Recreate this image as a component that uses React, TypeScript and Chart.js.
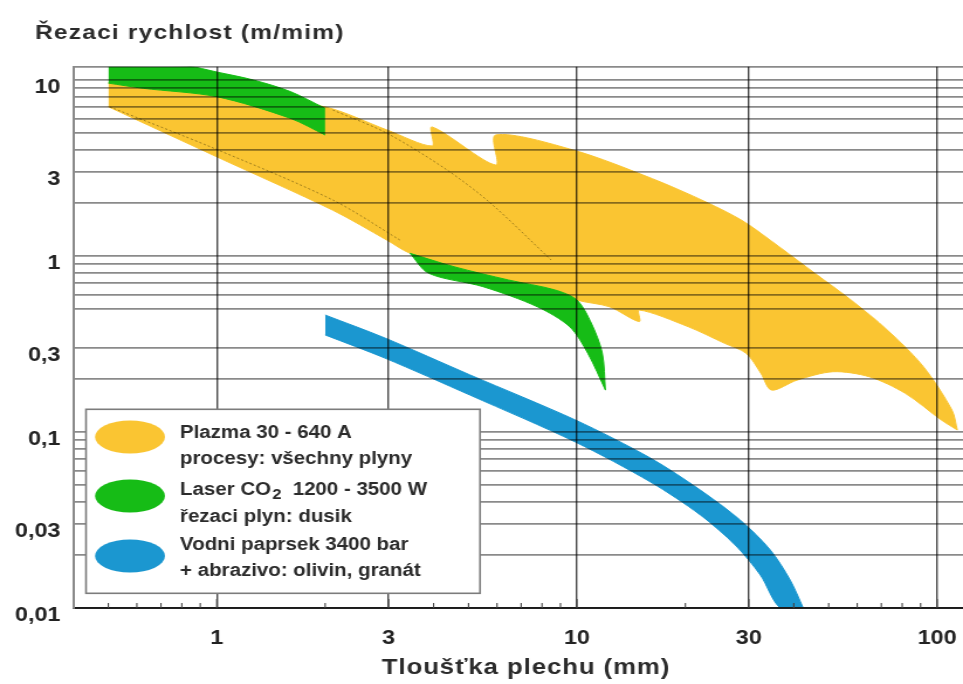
import React, { useEffect, useRef } from 'react';
import { Chart, registerables } from 'chart.js';

Chart.register(...registerables);

// ---------------- axis data ----------------
const X_MIN = 0.4;
const X_MAX = 118;
const Y_MIN = 0.01;
const Y_MAX = 11.9;

const xTickValues = [1, 3, 10, 30, 100];
const xTickLabels = ['1', '3', '10', '30', '100'];
const xMinorTicks = [0.5, 0.6, 0.7, 0.8, 0.9, 2, 4, 5, 6, 7, 8, 9, 20, 40, 50, 60, 70, 80, 90];

const yGridValues = [11.9, 10, 9, 8, 7, 6, 5, 4, 3, 2, 1, 0.9, 0.8, 0.7, 0.6, 0.5, 0.3, 0.2,
  0.1, 0.09, 0.08, 0.07, 0.06, 0.05, 0.04, 0.03, 0.02, 0.01];
const yTickValues = [10, 3, 1, 0.3, 0.1, 0.03, 0.01];
const yTickLabels = ['10', '3', '1', '0,3', '0,1', '0,03', '0,01'];

const xTitle = 'Tloušťka plechu (mm)';
const yTitle = 'Řezaci rychlost (m/mim)';

// ---------------- series data ----------------
// Plazma (yellow band): upper and lower boundary
const plasmaUpperX = [0.5, 1.0, 2.0, 2.97, 3.96, 3.96, 5.95, 5.95, 9.77, 16.2, 22.9, 28.9, 36.4, 45.8, 57.7, 72.7, 91.6, 110, 113.8];
const plasmaUpperY = [9.6, 8.55, 7.03, 5.2, 4.22, 5.41, 3.29, 4.87, 4.0, 2.75, 2.02, 1.58, 1.13, 0.797, 0.562, 0.38, 0.235, 0.133, 0.1026];
const plasmaLowerX = [0.5, 1.0, 2.1, 2.97, 3.44, 4.56, 6.45, 8.7, 10, 12.3, 14.9, 14.9, 20.4, 25.7, 29.5, 32.4, 34.7, 40.8, 51.4, 64.8, 81.5, 102.7, 113.8];
const plasmaLowerY = [7.05, 3.66, 1.82, 1.23, 1.036, 0.869, 0.731, 0.641, 0.562, 0.515, 0.424, 0.493, 0.396, 0.319, 0.28, 0.216, 0.173, 0.197, 0.22, 0.206, 0.166, 0.117, 0.1026];

// thin dotted lines inside the plasma band
const plasmaDash1X = [0.505, 0.977, 2.1, 3.23];
const plasmaDash1Y = [7.03, 4.11, 2.08, 1.23];
const plasmaDash2X = [2.1, 2.97, 4.36, 5.75, 8.48];
const plasmaDash2Y = [6.75, 4.98, 3.08, 2.0, 0.949];

// Laser CO2 (green): thin sheets band
const laserThinUpperX = [0.5, 0.825, 1.0, 1.264, 1.6, 2.0];
const laserThinUpperY = [12, 12, 11.1, 10, 8.6, 6.9];
const laserThinLowerX = [0.5, 0.625, 1.0, 1.6, 2.0];
const laserThinLowerY = [9.6, 8.97, 8.04, 6.06, 4.87];

// Laser CO2 (green): thick sheets band
const laserThickUpperX = [3.44, 4.56, 6.45, 8.7, 10, 10.96, 11.76, 12.0];
const laserThickUpperY = [1.036, 0.869, 0.731, 0.641, 0.562, 0.416, 0.281, 0.173];
const laserThickLowerX = [3.44, 3.88, 5.49, 7.76, 9.55, 10.72, 12.0];
const laserThickLowerY = [1.036, 0.797, 0.669, 0.515, 0.396, 0.28, 0.173];

// Vodni paprsek (blue band)
const waterUpperX = [2.0, 2.93, 5.05, 9.9, 16.0, 22.0, 28.4, 34.4, 39.1, 42.5];
const waterUpperY = [0.462, 0.342, 0.211, 0.117, 0.0711, 0.0468, 0.0316, 0.0214, 0.0144, 0.01];
const waterLowerX = [2.0, 2.93, 5.05, 9.9, 16.0, 22.0, 27.5, 32.3, 36.7, 42.5];
const waterLowerY = [0.356, 0.263, 0.162, 0.0877, 0.052, 0.0338, 0.0228, 0.0154, 0.01, 0.01];

// legend
const YELLOW = '#FAC532';
const GREEN = '#16BC16';
const BLUE = '#1B97D0';
const legendLine1 = ['Plazma 30 - 640 A', 'Laser CO₂  1200 - 3500 W', 'Vodni paprsek 3400 bar'];
const legendLine2 = ['procesy: všechny plyny', 'řezaci plyn: dusik', '+ abrazivo: olivin, granát'];
const legendColors = [YELLOW, GREEN, BLUE];

// ---------------- layout ----------------
const CW = 823; // internal canvas width (displayed stretched to 963)
const CH = 684;
const S = 963 / CW;
const dx = (d: number) => d / S;
const PLOT_TOP = 66.7;
const PLOT_BOTTOM = 608;
const PLOT_LEFT = dx(73.4);
const FONT = '"Liberation Sans", Arial, Helvetica, sans-serif';

const pts = (xs: number[], ys: number[]) => xs.map((x, i) => ({ x, y: ys[i] }));

function band(label: string, xs: number[], ys: number[], color: string, fill: any) {
  return {
    label,
    data: pts(xs, ys),
    borderColor: color,
    backgroundColor: color,
    borderWidth: 1,
    pointRadius: 0,
    tension: 0.3,
    fill,
  };
}

const decorPlugin = {
  id: 'decor',
  afterDraw(chart: any) {
    const ctx = chart.ctx as CanvasRenderingContext2D;
    const xs = chart.scales.x;
    const bottom = chart.chartArea.bottom;
    ctx.save();
    // minor ticks along the bottom axis
    ctx.strokeStyle = '#444';
    ctx.lineWidth = 1.1;
    for (const v of xMinorTicks) {
      const p = xs.getPixelForValue(v);
      ctx.beginPath();
      ctx.moveTo(p, bottom);
      ctx.lineTo(p, bottom - 5);
      ctx.stroke();
    }
    for (const v of xTickValues) {
      const p = xs.getPixelForValue(v);
      ctx.beginPath();
      ctx.moveTo(p, bottom);
      ctx.lineTo(p, bottom - 9);
      ctx.stroke();
    }

    // titles
    ctx.fillStyle = '#2b2b2b';
    ctx.textBaseline = 'alphabetic';
    ctx.textAlign = 'left';
    ctx.font = `bold 21px ${FONT}`;
    (ctx as any).letterSpacing = '1px';
    ctx.fillText(yTitle, dx(35), 38.5);
    ctx.font = `bold 22px ${FONT}`;
    (ctx as any).letterSpacing = '0.8px';
    ctx.textAlign = 'center';
    ctx.fillText(xTitle, dx(526), 674);
    (ctx as any).letterSpacing = '0px';

    // legend box
    const bx = dx(86), by = 409.3, bw = dx(480) - dx(86), bh = 184;
    ctx.fillStyle = '#ffffff';
    ctx.fillRect(bx, by, bw, bh);
    ctx.strokeStyle = '#7c7c7c';
    ctx.lineWidth = 1.6;
    ctx.strokeRect(bx, by, bw, bh);

    const ellY = [437, 496, 556];
    const rowY = [[433.5, 459.5], [490.5, 517], [545, 571.5]];
    for (let i = 0; i < legendColors.length; i++) {
      ctx.fillStyle = legendColors[i];
      ctx.beginPath();
      ctx.ellipse(dx(130), ellY[i], dx(35), 16.5, 0, 0, Math.PI * 2);
      ctx.fill();

      ctx.fillStyle = '#2b2b2b';
      ctx.textAlign = 'left';
      ctx.textBaseline = 'middle';
      ctx.font = `bold 17.5px ${FONT}`;
      const tx = dx(180);
      const parts = legendLine1[i].split('₂');
      if (parts.length === 2) {
        ctx.fillText(parts[0], tx, rowY[i][0]);
        const w0 = ctx.measureText(parts[0]).width;
        ctx.font = `bold 14px ${FONT}`;
        ctx.fillText('2', tx + w0 + 1, rowY[i][0] + 5);
        const w1 = ctx.measureText('2').width;
        ctx.font = `bold 17.5px ${FONT}`;
        ctx.fillText(parts[1], tx + w0 + 1 + w1, rowY[i][0]);
      } else {
        ctx.fillText(legendLine1[i], tx, rowY[i][0]);
      }
      ctx.fillText(legendLine2[i], tx, rowY[i][1]);
    }
    ctx.restore();
  },
};

export default function App() {
  const ref = useRef<HTMLCanvasElement>(null);

  useEffect(() => {
    const canvas = ref.current as HTMLCanvasElement;
    const datasets: any[] = [
      band('laserThickUpper', laserThickUpperX, laserThickUpperY, GREEN, false),
      band('laserThickLower', laserThickLowerX, laserThickLowerY, GREEN, '-1'),
      band('laserThinUpper', laserThinUpperX, laserThinUpperY, GREEN, false),
      band('laserThinLower', laserThinLowerX, laserThinLowerY, GREEN, '-1'),
      band('waterUpper', waterUpperX, waterUpperY, BLUE, false),
      band('waterLower', waterLowerX, waterLowerY, BLUE, '-1'),
      {
        label: 'plasmaDash1', data: pts(plasmaDash1X, plasmaDash1Y), borderColor: 'rgba(120,95,20,0.7)',
        borderWidth: 1, borderDash: [2, 2], pointRadius: 0, tension: 0.3, fill: false,
      },
      {
        label: 'plasmaDash2', data: pts(plasmaDash2X, plasmaDash2Y), borderColor: 'rgba(120,95,20,0.7)',
        borderWidth: 1, borderDash: [2, 2], pointRadius: 0, tension: 0.3, fill: false,
      },
      band('plasmaUpper', plasmaUpperX, plasmaUpperY, YELLOW, false),
      band('plasmaLower', plasmaLowerX, plasmaLowerY, YELLOW, '-1'),
    ];

    const tickFont = { family: FONT, size: 20, weight: 'bold' as const };

    const chart = new Chart(canvas, {
      type: 'line',
      data: { datasets },
      options: {
        responsive: false,
        animation: false,
        devicePixelRatio: 1,
        events: [],
        layout: { padding: { top: PLOT_TOP, right: 0, bottom: 0, left: 0 } },
        plugins: {
          legend: { display: false },
          tooltip: { enabled: false },
        },
        scales: {
          x: {
            type: 'logarithmic',
            position: 'bottom',
            min: X_MIN,
            max: X_MAX,
            afterBuildTicks: (s: any) => { s.ticks = xTickValues.map((v) => ({ value: v })); },
            afterFit: (s: any) => { s.height = CH - PLOT_BOTTOM; },
            ticks: {
              autoSkip: false,
              maxRotation: 0,
              minRotation: 0,
              padding: 0,
              color: '#222',
              font: tickFont,
              callback: (v: any) => {
                const i = xTickValues.indexOf(Number(v));
                return i >= 0 ? xTickLabels[i] : '';
              },
            },
            grid: {
              z: 1,
              color: 'rgba(0,0,0,0.72)',
              lineWidth: 1.4,
              drawTicks: true,
              tickLength: 18,
              tickColor: 'rgba(0,0,0,0)',
            },
            border: { display: true, color: '#333', width: 2, z: 1 },
          },
          y: {
            type: 'logarithmic',
            min: Y_MIN,
            max: Y_MAX,
            afterBuildTicks: (s: any) => {
              s.ticks = [...yGridValues].sort((a, b) => a - b).map((v) => ({ value: v }));
            },
            afterFit: (s: any) => { s.width = PLOT_LEFT; },
            ticks: {
              autoSkip: false,
              padding: 11,
              labelOffset: 7,
              color: '#222',
              font: tickFont,
              callback: (v: any) => {
                const i = yTickValues.indexOf(Number(v));
                return i >= 0 ? yTickLabels[i] : '';
              },
            },
            grid: { z: 1, color: 'rgba(0,0,0,0.46)', lineWidth: 1.8, drawTicks: false },
            border: { display: true, color: '#8a8a8a', width: 2, z: 1 },
          },
        },
      } as any,
      plugins: [decorPlugin],
    });
    return () => chart.destroy();
  }, []);

  return (
    <div style={{ position: 'fixed', left: 0, top: 0, width: 963, height: 684, background: '#fff', overflow: 'hidden' }}>
      <canvas ref={ref} width={CW} height={CH} style={{ width: '963px', height: '684px', display: 'block' }} />
    </div>
  );
}
